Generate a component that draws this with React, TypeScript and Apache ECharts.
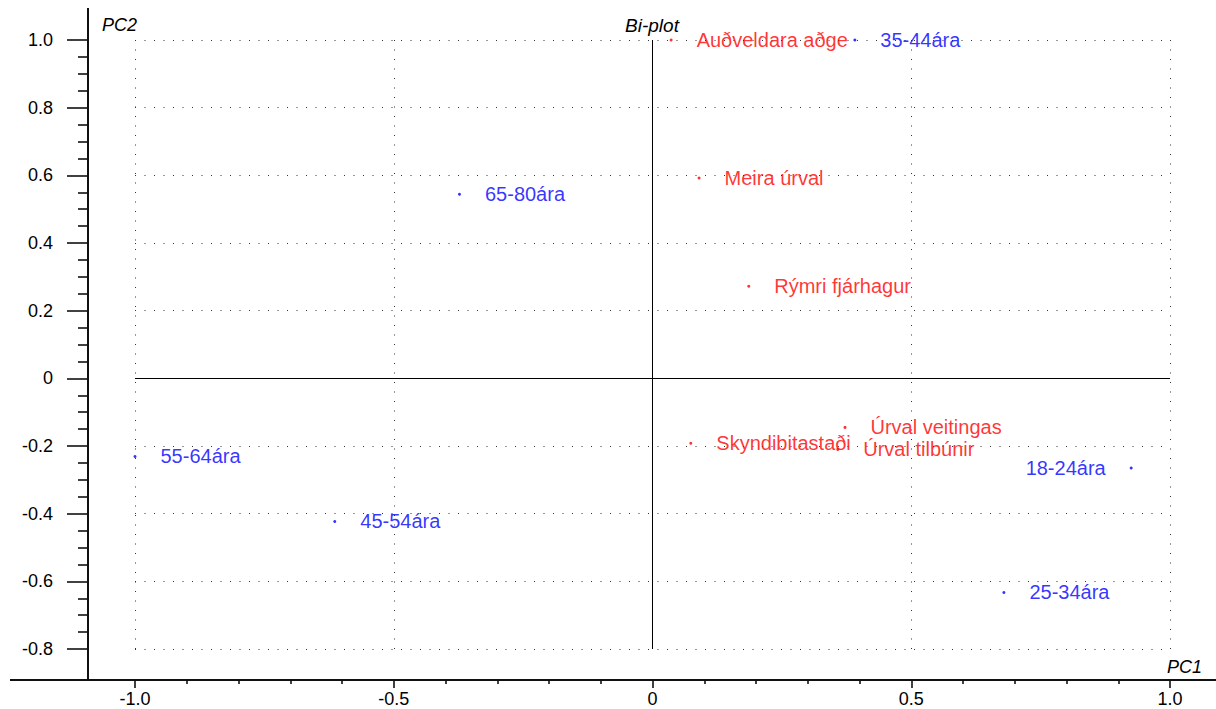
import React, { useEffect, useRef } from "react";
import * as echarts from "echarts";

// Variables (red) — PC1 / PC2 loadings
const varNames = ["Auðveldara aðge", "Meira úrval", "Rýmri fjárhagur", "Úrval veitingas", "Skyndibitastaði", "Úrval tilbúnir"];
const varPC1 = [0.036, 0.09, 0.186, 0.372, 0.074, 0.358];
const varPC2 = [1.0, 0.592, 0.272, -0.145, -0.192, -0.21];

// Observations (blue) — age groups
const obsNames = ["35-44ára", "65-80ára", "55-64ára", "45-54ára", "18-24ára", "25-34ára"];
const obsPC1 = [0.391, -0.373, -1.0, -0.614, 0.925, 0.679];
const obsPC2 = [1.0, 0.544, -0.231, -0.423, -0.265, -0.633];

const xTicks = [-1.0, -0.5, 0, 0.5, 1.0];
const yTicks = [1.0, 0.8, 0.6, 0.4, 0.2, 0, -0.2, -0.4, -0.6, -0.8];

const leftLabelled = new Set(["18-24ára"]);
const FONT = "'Liberation Sans', Arial, sans-serif";

function buildData(names: string[], xs: number[], ys: number[]) {
  return names.map((n, i) => ({
    name: n,
    value: [xs[i], ys[i]],
    label: { position: leftLabelled.has(n) ? "left" : "right" },
  }));
}

const fmt = (v: number) => (Math.abs(v) < 1e-9 ? "0" : v.toFixed(1));

export default function App() {
  const ref = useRef<HTMLDivElement>(null);
  useEffect(() => {
    if (!ref.current) return;
    const chart = echarts.init(ref.current, undefined, { renderer: "svg" });
    const dotted = { color: "#333", width: 1, type: [1, 8.5] as any };
    const axisCommon = {
      axisLine: { show: false, onZero: false },
      axisTick: { show: true, lineStyle: { color: "#111", width: 1.6 } },
      minorTick: { show: true, lineStyle: { color: "#111", width: 1.6 } },
      splitLine: { show: true, lineStyle: dotted },
      axisLabel: { color: "#000", fontSize: 18, fontFamily: FONT, formatter: fmt },
    };
    chart.setOption({
      animation: false,
      backgroundColor: "#fff",
      grid: { left: 135, right: 46, top: 40, bottom: 60 },
      xAxis: {
        type: "value",
        min: xTicks[0],
        max: xTicks[xTicks.length - 1],
        interval: 0.5,
        offset: 31,
        ...axisCommon,
        axisTick: { ...axisCommon.axisTick, length: 8 },
        minorTick: { ...axisCommon.minorTick, splitNumber: 5, length: 4 },
        axisLabel: { ...axisCommon.axisLabel, margin: 10 },
      },
      yAxis: {
        type: "value",
        min: yTicks[yTicks.length - 1],
        max: yTicks[0],
        interval: 0.2,
        offset: 47,
        ...axisCommon,
        axisTick: { ...axisCommon.axisTick, length: 21 },
        minorTick: { ...axisCommon.minorTick, splitNumber: 4, length: 10 },
        axisLabel: { ...axisCommon.axisLabel, margin: 35 },
      },
      graphic: [
        { type: "line", shape: { x1: 10, y1: 680, x2: 1216, y2: 680 }, style: { stroke: "#111", lineWidth: 2 } },
        { type: "line", shape: { x1: 88, y1: 8, x2: 88, y2: 680 }, style: { stroke: "#111", lineWidth: 2 } },
        { type: "text", x: 102, y: 25, style: { text: "PC2", fontSize: 18, fontStyle: "italic", fontFamily: FONT, fill: "#000", verticalAlign: "middle" } },
        { type: "text", x: 1202, y: 667, style: { text: "PC1", fontSize: 18, fontStyle: "italic", fontFamily: FONT, fill: "#000", align: "right", verticalAlign: "middle" } },
        { type: "text", x: 652, y: 25, style: { text: "Bi-plot", fontSize: 19, fontStyle: "italic", fontFamily: FONT, fill: "#000", align: "center", verticalAlign: "middle" } },
      ],
      series: [
        {
          type: "scatter",
          clip: false,
          symbol: "circle",
          symbolSize: 3,
          itemStyle: { color: "#ff0000" },
          label: { show: true, formatter: "{b}", color: "#ff0000", fontSize: 20, fontFamily: FONT, distance: 24 },
          data: buildData(varNames, varPC1, varPC2),
          markLine: {
            silent: true,
            symbol: "none",
            label: { show: false },
            lineStyle: { color: "#000", width: 1, type: "solid" },
            data: [{ xAxis: 0 }, { yAxis: 0 }],
          },
          z: 3,
        },
        {
          type: "scatter",
          clip: false,
          symbol: "circle",
          symbolSize: 3,
          itemStyle: { color: "#0000ff" },
          label: { show: true, formatter: "{b}", color: "#0000ff", fontSize: 20, fontFamily: FONT, distance: 24 },
          data: buildData(obsNames, obsPC1, obsPC2),
          z: 3,
        },
      ],
    });
    return () => chart.dispose();
  }, []);
  return (
    <div
      ref={ref}
      style={{ position: "fixed", left: 0, top: 0, width: 1216, height: 709, background: "#fff" }}
    />
  );
}
